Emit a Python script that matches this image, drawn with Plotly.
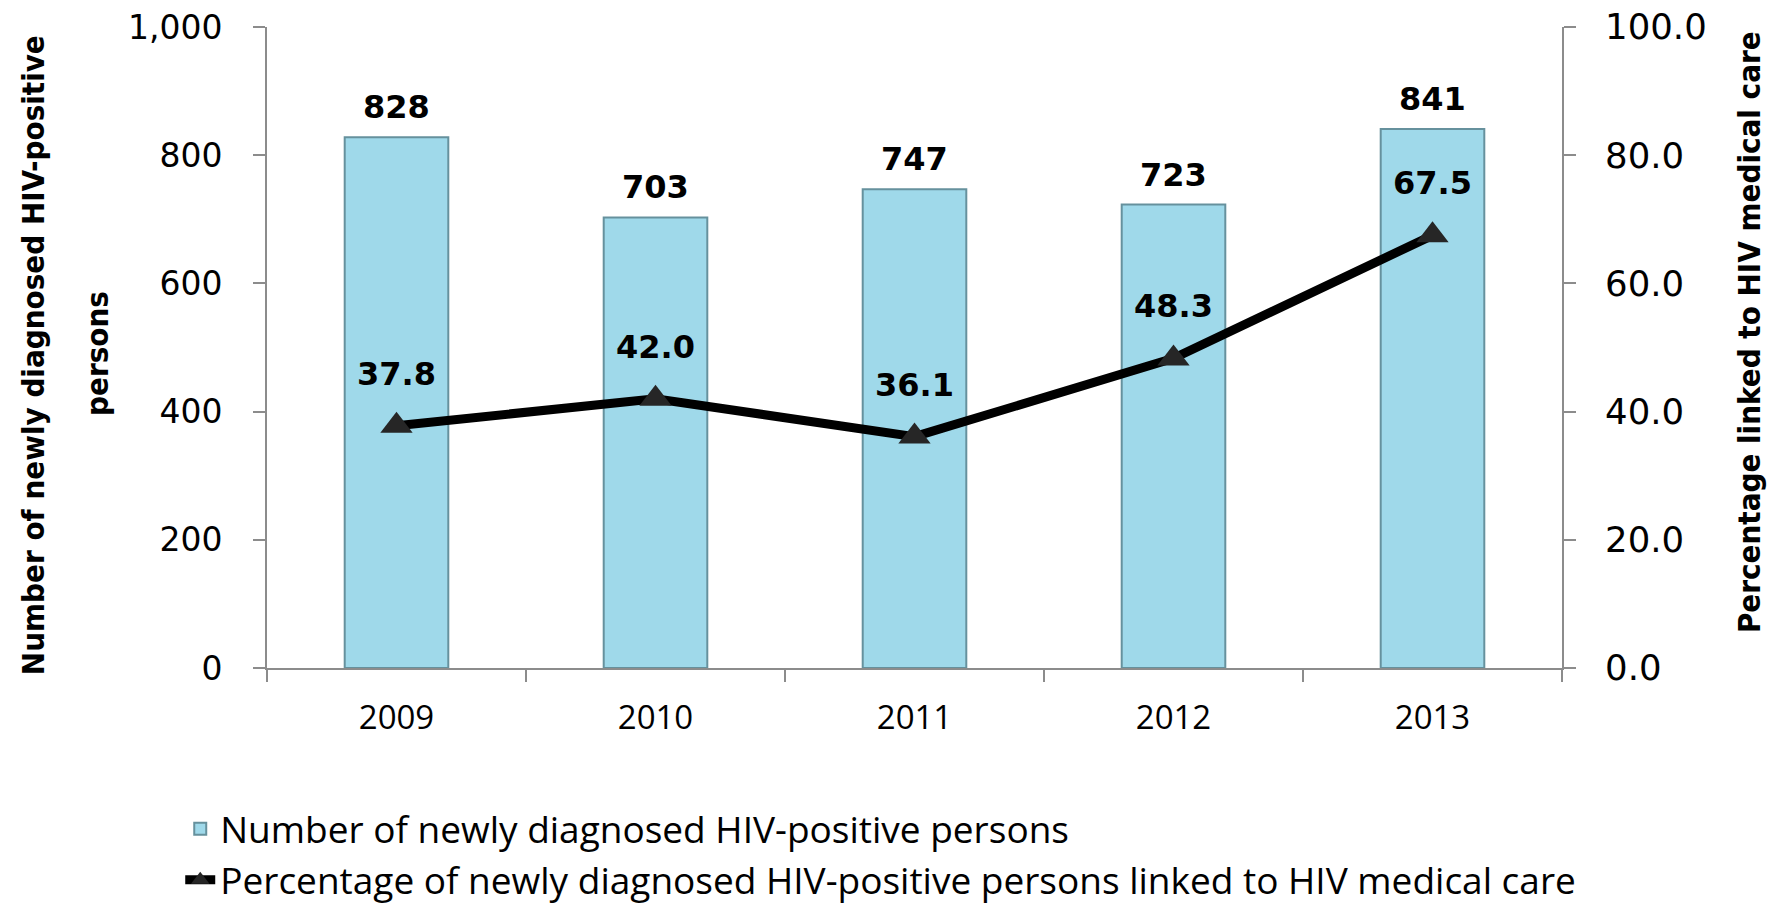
import plotly.graph_objects as go

years = ["2009", "2010", "2011", "2012", "2013"]
new_diagnoses = [828, 703, 747, 723, 841]
pct_linked = [37.8, 42.0, 36.1, 48.3, 67.5]

bar_name = "Number of newly diagnosed HIV-positive persons"
line_name = "Percentage of newly diagnosed HIV-positive persons linked to HIV medical care"
left_title_1 = "Number of newly diagnosed HIV-positive"
left_title_2 = "persons"
right_title = "Percentage linked to HIV medical care"

W, H = 1781, 908
OFF = 8  # page body margin
L, T = 259, 19
pw, ph = 1295, 641
R = W - L - pw
B = H - T - ph

fig = go.Figure()
fig.add_trace(go.Bar(
    x=years, y=new_diagnoses, name=bar_name,
    marker=dict(color="#9fd9ea", line=dict(color="#66919d", width=2)),
    width=0.4, yaxis="y",
))
fig.add_trace(go.Scatter(
    x=years, y=pct_linked, name=line_name, yaxis="y2",
    mode="lines+markers",
    line=dict(color="#000000", width=9),
    marker=dict(symbol="triangle-up", size=28, color="#262626"),
))

ann = []
lab_font = dict(family="DejaVu Sans", size=32, color="#000000", weight="bold")
for i, v in enumerate(new_diagnoses):
    ann.append(dict(x=i, y=v, xref="x", yref="y", text=f"{v:,}", showarrow=False,
                    yanchor="bottom", yshift=9, font=lab_font))
for i, v in enumerate(pct_linked):
    ann.append(dict(x=i, y=v, xref="x", yref="y2", text=f"{v:.1f}", showarrow=False,
                    yanchor="middle", yshift=52, font=lab_font))

title_font = dict(family="DejaVu Sans Condensed, DejaVu Sans", size=31,
                  color="#000000", weight="bold")
ann.append(dict(x=0, y=0.488, xref="paper", yref="paper", xshift=33 - OFF - L, text=left_title_1,
                textangle=-90, showarrow=False, xanchor="center", yanchor="middle", font=title_font))
ann.append(dict(x=0, y=0.49, xref="paper", yref="paper", xshift=97 - OFF - L, text=left_title_2,
                textangle=-90, showarrow=False, xanchor="center", yanchor="middle", font=title_font))
ann.append(dict(x=1, y=0.524, xref="paper", yref="paper", xshift=1749 - OFF - (L + pw), text=right_title,
                textangle=-90, showarrow=False, xanchor="center", yanchor="middle", font=title_font))

axis_col = "#8c8c8c"

fig.update_layout(
    width=W, height=H,
    margin=dict(l=L, r=R, t=T, b=B, autoexpand=False),
    paper_bgcolor="white", plot_bgcolor="white",
    showlegend=True,
    legend=dict(orientation="v", x=-0.067, xanchor="left", y=-0.203, yanchor="top",
                font=dict(family="Open Sans", size=37, color="#000000"),
                itemwidth=30, tracegroupgap=0, bgcolor="rgba(0,0,0,0)"),
    xaxis=dict(type="category", range=[-0.5, len(years) - 0.5], showline=True,
               linecolor=axis_col, linewidth=2,
               ticks="outside", tickson="boundaries", ticklen=12, tickcolor=axis_col, tickwidth=2,
               tickfont=dict(family="Open Sans", size=33, color="#000000"), tickangle=0,
               ticklabelstandoff=19, showgrid=False, zeroline=False),
    yaxis=dict(range=[0, 1000], tickmode="linear", tick0=0, dtick=200, tickformat=",d",
               showline=True, linecolor=axis_col, linewidth=2, ticks="outside", ticklen=12,
               tickcolor=axis_col, tickwidth=2,
               tickfont=dict(family="DejaVu Sans", size=33, color="#000000"),
               ticklabelstandoff=24, ticklabeloverflow="allow", showgrid=False, zeroline=False),
    yaxis2=dict(range=[0, 100], tickmode="linear", tick0=0, dtick=20, tickformat=".1f",
                overlaying="y", side="right", showline=True, linecolor=axis_col, linewidth=2,
                ticks="outside", ticklen=12, tickcolor=axis_col, tickwidth=2,
                tickfont=dict(family="DejaVu Sans", size=35.5, color="#000000"),
                ticklabelstandoff=22, ticklabeloverflow="allow", showgrid=False, zeroline=False),
    annotations=ann,
)

fig.write_html("out.html")
